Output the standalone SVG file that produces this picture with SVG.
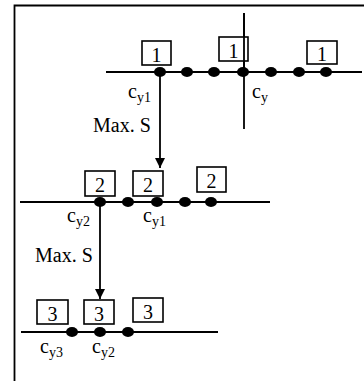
<svg xmlns="http://www.w3.org/2000/svg" width="364" height="383" viewBox="0 0 364 383">
<defs>
<style>
.ln{stroke:#000;stroke-width:1.8;fill:none}
.bx{stroke:#000;stroke-width:1.6;fill:#fff}
.dt{fill:#000}
.t{font-family:"Liberation Serif","Times New Roman",serif;font-size:20px;fill:#000}
.s{font-size:14px}
.d{text-anchor:middle}
</style>
<marker id="ah" markerWidth="10" markerHeight="10" refX="10" refY="5" orient="auto" markerUnits="userSpaceOnUse">
<path d="M0,0 L10,5 L0,10 Z" fill="#000"/>
</marker>
</defs>
<rect width="364" height="383" fill="#fff"/>
<path class="ln" d="M14.5,381 V5.5 H364" stroke-width="2.2"/>
<g id="connectors">
<line class="ln" x1="106" y1="72" x2="362" y2="72"/>
<line class="ln" x1="244" y1="13" x2="244" y2="129"/>
<line class="ln" x1="160" y1="72" x2="160" y2="168" marker-end="url(#ah)"/>
<line class="ln" x1="20" y1="202" x2="270" y2="202"/>
<line class="ln" x1="100" y1="202" x2="100" y2="299" marker-end="url(#ah)"/>
<line class="ln" x1="21" y1="332" x2="218" y2="332"/>
</g>
<g id="row1">
<rect class="bx" x="142" y="41" width="29" height="24"/>
<text class="t d" x="156.5" y="62">1</text>
<rect class="bx" x="219" y="37" width="29" height="24"/>
<text class="t d" x="233.5" y="58">1</text>
<rect class="bx" x="307" y="41" width="30" height="23"/>
<text class="t d" x="322" y="61">1</text>
<line class="ln" x1="244" y1="13" x2="244" y2="72"/>
<ellipse class="dt" cx="160" cy="72" rx="6" ry="5"/>
<ellipse class="dt" cx="187" cy="72" rx="6" ry="5"/>
<ellipse class="dt" cx="214" cy="72" rx="6" ry="5"/>
<ellipse class="dt" cx="243" cy="72" rx="6" ry="5"/>
<ellipse class="dt" cx="271" cy="72" rx="6" ry="5"/>
<ellipse class="dt" cx="299" cy="72" rx="6" ry="5"/>
<ellipse class="dt" cx="326" cy="72" rx="6" ry="5"/>
<text class="t" x="128" y="98">c<tspan class="s" dy="4">y1</tspan></text>
<text class="t" x="252" y="98">c<tspan class="s" dy="4">y</tspan></text>
</g>
<g id="label1">
<text class="t" x="93" y="132">Max. S</text>
</g>
<g id="row2">
<rect class="bx" x="85" y="171" width="30" height="25"/>
<text class="t d" x="100" y="192">2</text>
<rect class="bx" x="133" y="171" width="30" height="25"/>
<text class="t d" x="148" y="192">2</text>
<rect class="bx" x="197" y="167" width="29" height="25"/>
<text class="t d" x="211.5" y="188">2</text>
<ellipse class="dt" cx="100" cy="202" rx="6" ry="5"/>
<ellipse class="dt" cx="128" cy="202" rx="6" ry="5"/>
<ellipse class="dt" cx="157" cy="202" rx="6" ry="5"/>
<ellipse class="dt" cx="185" cy="202" rx="6" ry="5"/>
<ellipse class="dt" cx="211" cy="202" rx="6" ry="5"/>
<text class="t" x="67" y="222">c<tspan class="s" dy="4">y2</tspan></text>
<text class="t" x="143" y="222">c<tspan class="s" dy="4">y1</tspan></text>
</g>
<g id="label2">
<text class="t" x="35" y="262">Max. S</text>
</g>
<g id="row3">
<rect class="bx" x="37" y="300" width="31" height="24"/>
<text class="t d" x="52.5" y="321">3</text>
<rect class="bx" x="84" y="300" width="30" height="24"/>
<text class="t d" x="99" y="321">3</text>
<rect class="bx" x="133" y="298" width="30" height="24"/>
<text class="t d" x="148" y="319">3</text>
<ellipse class="dt" cx="72" cy="332" rx="6" ry="5"/>
<ellipse class="dt" cx="100" cy="332" rx="6" ry="5"/>
<ellipse class="dt" cx="128" cy="332" rx="6" ry="5"/>
<text class="t" x="40" y="353">c<tspan class="s" dy="4">y3</tspan></text>
<text class="t" x="92" y="353">c<tspan class="s" dy="4">y2</tspan></text>
</g>
</svg>
